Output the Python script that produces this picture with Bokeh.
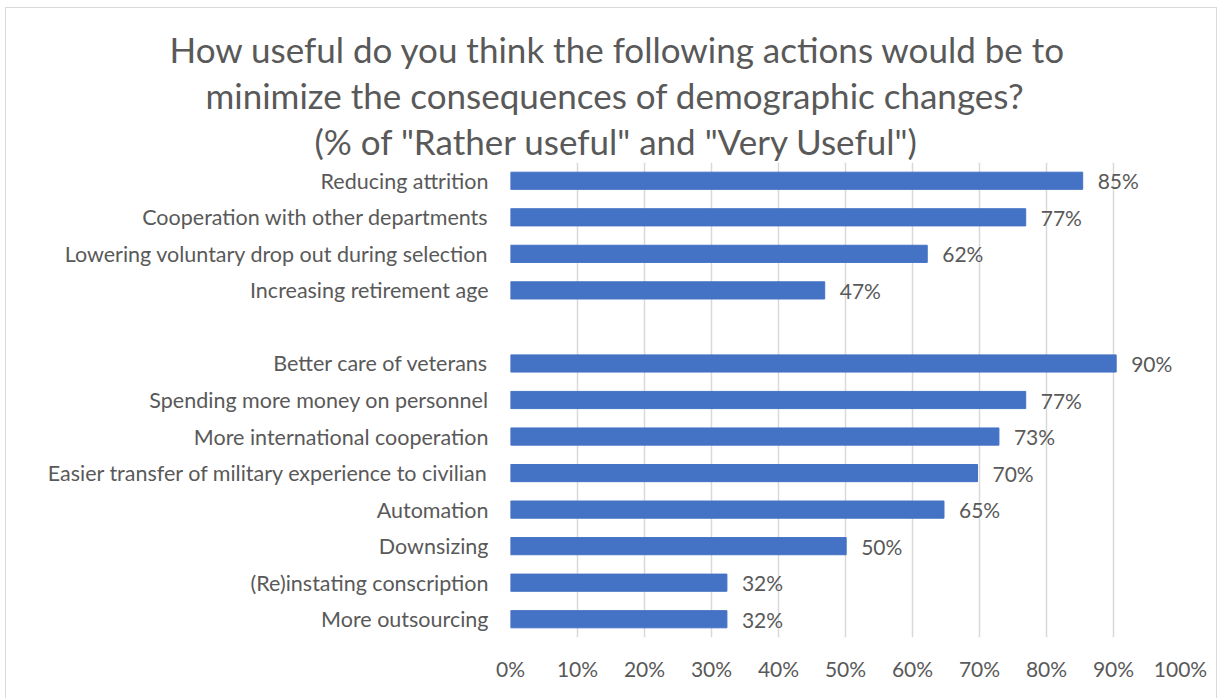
from bokeh.plotting import figure
from bokeh.models import FactorRange, Range1d, FixedTicker, ColumnDataSource, Title
from bokeh.core.properties import value
from bokeh.embed import file_html
from bokeh.resources import INLINE

title_lines = [
    'How useful do you think the following actions would be to',
    'minimize the consequences of demographic changes?',
    '(% of "Rather useful" and "Very Useful")',
]
categories = [
    "Reducing attrition",
    "Cooperation with other departments",
    "Lowering voluntary drop out during selection",
    "Increasing retirement age",
    "Better care of veterans",
    "Spending more money on personnel",
    "More international cooperation",
    "Easier transfer of military experience to civilian",
    "Automation",
    "Downsizing",
    "(Re)instating conscription",
    "More outsourcing",
]
values = [85.4, 76.9, 62.2, 46.9, 90.4, 76.9, 72.9, 69.7, 64.7, 50.1, 32.3, 32.3]
gap_after = "Increasing retirement age"
x_ticks = [0, 10, 20, 30, 40, 50, 60, 70, 80, 90, 100]
x_tick_labels = ["0%", "10%", "20%", "30%", "40%", "50%", "60%", "70%", "80%", "90%", "100%"]

FONT = "Lato"
TXT = "#595959"
BAR = "#4472C4"
GRID = "#D9D9D9"

order = []
for c in categories:
    order.append(c)
    if c == gap_after:
        order.append(" ")
factors = list(reversed(order))

W, H = 1212, 691
p = figure(width=W, height=H, y_range=FactorRange(factors=factors),
           x_range=Range1d(0, 100), output_backend="svg", toolbar_location=None,
           min_border_left=504, min_border_right=38, min_border_top=154,
           min_border_bottom=62)
p.styles = {"margin-left": "5px", "margin-top": "7px",
            "border-left": "1px solid #D9D9D9", "border-top": "1px solid #D9D9D9",
            "border-right": "1px solid #D9D9D9"}
p.outline_line_color = None

src = ColumnDataSource(dict(cat=categories, val=values,
                            lab=[f"{round(v)}%" for v in values]))
p.hbar(y="cat", left=0, right="val", height=0.47, source=src,
       fill_color=BAR, line_color=BAR)
p.text(x="val", y="cat", text="lab", source=src, x_offset=15,
       text_align="left", text_baseline="middle",
       text_font=value(FONT), text_font_size="21px", text_color=TXT)

p.xaxis.ticker = FixedTicker(ticks=x_ticks)
p.xaxis.major_label_overrides = {t_: l for t_, l in zip(x_ticks, x_tick_labels)}
p.xaxis.axis_line_color = None
p.xaxis.major_tick_line_color = None
p.xaxis.minor_tick_line_color = None
p.xaxis.major_label_standoff = 12
p.xaxis.major_label_text_font = FONT
p.xaxis.major_label_text_font_size = "21px"
p.xaxis.major_label_text_color = TXT

p.yaxis.axis_line_color = None
p.yaxis.major_tick_line_color = None
p.yaxis.major_label_standoff = 16
p.yaxis.major_label_text_font = FONT
p.yaxis.major_label_text_font_size = "21.5px"
p.yaxis.major_label_text_color = TXT

p.xgrid.ticker = FixedTicker(ticks=x_ticks)
p.xgrid.grid_line_color = GRID
p.xgrid.grid_line_width = 1.5
p.ygrid.grid_line_color = None

# title lines, centred over the whole chart (frame starts 504 px into the canvas)
title_offsets = [-341, -305, -196]
title_standoffs = [2, 2, 2]
for line, off, so in reversed(list(zip(title_lines, title_offsets, title_standoffs))):
    p.add_layout(Title(text=line, align="left", offset=off, standoff=so,
                       text_font=FONT, text_font_size="35px",
                       text_font_style="normal", text_color=TXT), "above")

open("out.html", "w").write(file_html(p, INLINE))
